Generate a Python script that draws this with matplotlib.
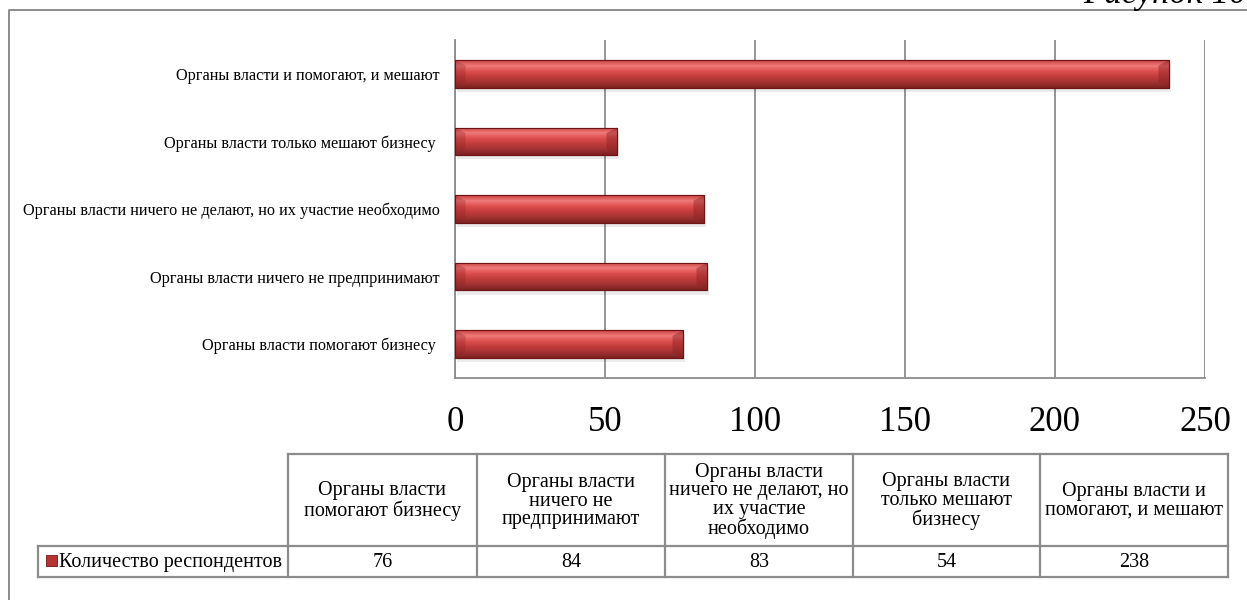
import matplotlib
matplotlib.use("Agg")
import matplotlib.pyplot as plt
import numpy as np
from matplotlib.colors import LinearSegmentedColormap
from matplotlib.patches import Rectangle

# data (bottom-to-top in the chart, left-to-right in the table)
categories = [
    "Органы власти помогают бизнесу ",
    "Органы власти ничего не предпринимают",
    "Органы власти ничего не делают, но их участие необходимо",
    "Органы власти только мешают бизнесу ",
    "Органы власти и помогают, и мешают",
]
table_headers = [
    "Органы власти\nпомогают бизнесу",
    "Органы власти\nничего не\nпредпринимают",
    "Органы власти\nничего не делают, но\nих участие\nнеобходимо",
    "Органы власти\nтолько мешают\nбизнесу",
    "Органы власти и\nпомогают, и мешают",
]
values = [76, 84, 83, 54, 238]
series_name = "Количество респондентов"
x_ticks = [0, 50, 100, 150, 200, 250]

SERIF = "Liberation Serif"
GRAY = "#8c8c8c"
W, H = 1247, 600

fig = plt.figure(figsize=(W / 100, H / 100), dpi=100)
fig.patch.set_facecolor("white")

# overlay in pixel coordinates for frame and data table
ov = fig.add_axes([0, 0, 1, 1], zorder=0)
ov.set_xlim(0, W)
ov.set_ylim(H, 0)
ov.axis("off")

# outer chart frame (runs off the right and bottom)
ov.plot([9, 9, W + 5], [H + 5, 10, 10], color=GRAY, lw=1.4, solid_capstyle="butt")

fig.text(1083 / W, 1 - 3 / H, "Рисунок 10", family=SERIF, style="italic",
         fontsize=25, va="baseline", ha="left")

# main bar axes
ax = fig.add_axes([455 / W, 1 - 378 / H, 750 / W, 338 / H], zorder=1)
ax.patch.set_alpha(0)
ypos = np.arange(len(values))
bars = ax.barh(ypos, values, height=0.41, color="#c23a3a", edgecolor="#6e1414",
               linewidth=0.8, zorder=3)

red_cmap = LinearSegmentedColormap.from_list(
    "bevel", ["#7c2222", "#a33232", "#c13c3c", "#dd4e4e", "#f07a7a", "#c84040"])
grad = np.linspace(0, 1, 64).reshape(-1, 1)
for b in bars:
    x0, y0, w, h = b.get_x(), b.get_y(), b.get_width(), b.get_height()
    # soft shadow
    ax.add_patch(Rectangle((x0 + 0.8, y0 - 0.06), w, h, facecolor="#000000",
                           alpha=0.08, lw=0, zorder=2))
    im = ax.imshow(grad, cmap=red_cmap, aspect="auto", origin="lower",
                   extent=(x0, x0 + w, y0, y0 + h), zorder=3.5)
    im.set_clip_path(b)
    # bevelled ends
    ew = min(3.5, w * 0.1)
    ax.fill([x0 + w, x0 + w - ew, x0 + w - ew, x0 + w],
            [y0, y0 + h * 0.2, y0 + h * 0.8, y0 + h], color="#8a2222", alpha=0.45, lw=0, zorder=3.6)
    ax.fill([x0, x0 + ew, x0 + ew, x0],
            [y0, y0 + h * 0.2, y0 + h * 0.8, y0 + h], color="#8a2222", alpha=0.3, lw=0, zorder=3.6)
    ax.add_patch(Rectangle((x0, y0), w, h, fill=False, edgecolor="#6e1414", lw=0.8, zorder=3.7))

ax.set_xlim(0, 250)
ax.set_ylim(-0.5, len(values) - 0.5)
ax.set_xticks(x_ticks)
ax.set_xticklabels([str(t) for t in x_ticks], family=SERIF, fontsize=25)
ax.set_yticks(ypos)
ax.set_yticklabels(categories, family=SERIF, fontsize=11.7)
ax.tick_params(axis="x", length=0, pad=20)
ax.tick_params(axis="y", length=0, pad=11)
ax.grid(axis="x", color=GRAY, lw=1.3, zorder=1)
for s in ["top", "right"]:
    ax.spines[s].set_visible(False)
for s in ["left", "bottom"]:
    ax.spines[s].set_color(GRAY)
    ax.spines[s].set_linewidth(1.3)

# data table
col_edges = [288, 477, 665, 853, 1040, 1228]
t_top, t_mid, t_bot = 454, 546, 577
leg_left = 38
tkw = dict(color=GRAY, lw=1.6, solid_capstyle="projecting")
ov.plot([col_edges[0], col_edges[-1]], [t_top, t_top], **tkw)
ov.plot([leg_left, col_edges[-1]], [t_mid, t_mid], **tkw)
ov.plot([leg_left, col_edges[-1]], [t_bot, t_bot], **tkw)
ov.plot([leg_left, leg_left], [t_mid, t_bot], **tkw)
for x in col_edges:
    ov.plot([x, x], [t_top, t_bot], **tkw)

for i, (hdr, v) in enumerate(zip(table_headers, values)):
    cx = (col_edges[i] + col_edges[i + 1]) / 2
    ov.text(cx, (t_top + t_mid) / 2 + 1, hdr, ha="center", va="center", family=SERIF,
            fontsize=14.5, linespacing=0.98)
    ov.text(cx, (t_mid + t_bot) / 2 + 1, str(v), ha="center", va="center", family=SERIF,
            fontsize=14.5)

# legend key in the table
ov.add_patch(Rectangle((46, 555), 11, 11, facecolor="#b53434", edgecolor="#6e1414", lw=0.6))
ov.text(59, (t_mid + t_bot) / 2 + 1, series_name, ha="left", va="center", family=SERIF,
        fontsize=14.5)

fig.savefig("out.png", dpi=100)
